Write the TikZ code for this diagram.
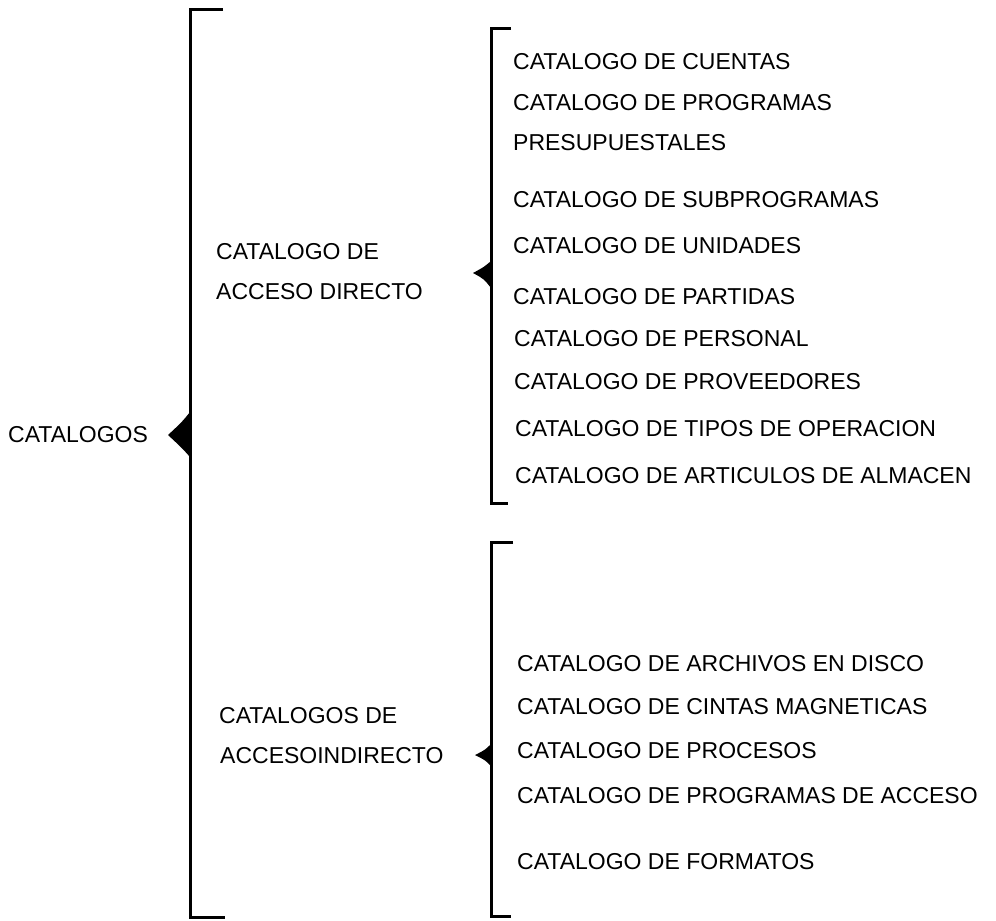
\documentclass[tikz,border=0pt]{standalone}
\usepackage{fontspec}
\setmainfont{Liberation Sans}
\begin{document}
\begin{tikzpicture}[x=1pt,y=-1pt,
  lbl/.style={anchor=west,inner sep=0pt,font=\fontsize{23}{27}\selectfont},
  brk/.style={line width=3pt,line cap=butt,line join=miter},
  pointer/.style={fill=black,draw=none}]
\useasboundingbox (0,0) rectangle (996,921);

% main bracket
\coordinate (mTop) at (190,9);
\coordinate (mBot) at (190,917);
\draw[brk] (223,9) -- (mTop) -- (mBot) -- (225,917);
\fill[pointer] (190,412) .. controls (182,422) .. (168,435) .. controls (182,448) .. (190,457) -- cycle;
\node[lbl] (cat) at (8,435) {CATALOGOS};

% upper group
\node[lbl] (ad1) at (216,252) {CATALOGO DE};
\node[lbl] (ad2) at (216,292) {ACCESO DIRECTO};
\coordinate (uTop) at (491,28);
\coordinate (uBot) at (491,503);
\draw[brk] (511,28) -- (uTop) -- (uBot) -- (508,503);
\fill[pointer] (491,261) .. controls (484,267) .. (473,273) .. controls (484,279) .. (491,288) -- cycle;

\node[lbl] (u1)  at (513,62)  {CATALOGO DE CUENTAS};
\node[lbl] (u2)  at (513,103) {CATALOGO DE PROGRAMAS};
\node[lbl] (u3)  at (513,143) {PRESUPUESTALES};
\node[lbl] (u4)  at (513,200) {CATALOGO DE SUBPROGRAMAS};
\node[lbl] (u5)  at (513,246) {CATALOGO DE UNIDADES};
\node[lbl] (u6)  at (513,297) {CATALOGO DE PARTIDAS};
\node[lbl] (u7)  at (514,339) {CATALOGO DE PERSONAL};
\node[lbl] (u8)  at (514,382) {CATALOGO DE PROVEEDORES};
\node[lbl] (u9)  at (515,429) {CATALOGO DE TIPOS DE OPERACION};
\node[lbl] (u10) at (515,476) {CATALOGO DE ARTICULOS DE ALMACEN};

% lower group
\node[lbl] (ai1) at (219,716) {CATALOGOS DE};
\node[lbl] (ai2) at (220,756) {ACCESOINDIRECTO};
\coordinate (lTop) at (491,542);
\coordinate (lBot) at (491,916);
\draw[brk] (513,542) -- (lTop) -- (lBot) -- (511,916);
\fill[pointer] (491,744) .. controls (485,750) .. (475,755) .. controls (485,760) .. (491,766) -- cycle;

\node[lbl] (l1) at (517,664) {CATALOGO DE ARCHIVOS EN DISCO};
\node[lbl] (l2) at (517,707) {CATALOGO DE CINTAS MAGNETICAS};
\node[lbl] (l3) at (517,751) {CATALOGO DE PROCESOS};
\node[lbl] (l4) at (517,796) {CATALOGO DE PROGRAMAS DE ACCESO};
\node[lbl] (l5) at (517,862) {CATALOGO DE FORMATOS};
\end{tikzpicture}
\end{document}
